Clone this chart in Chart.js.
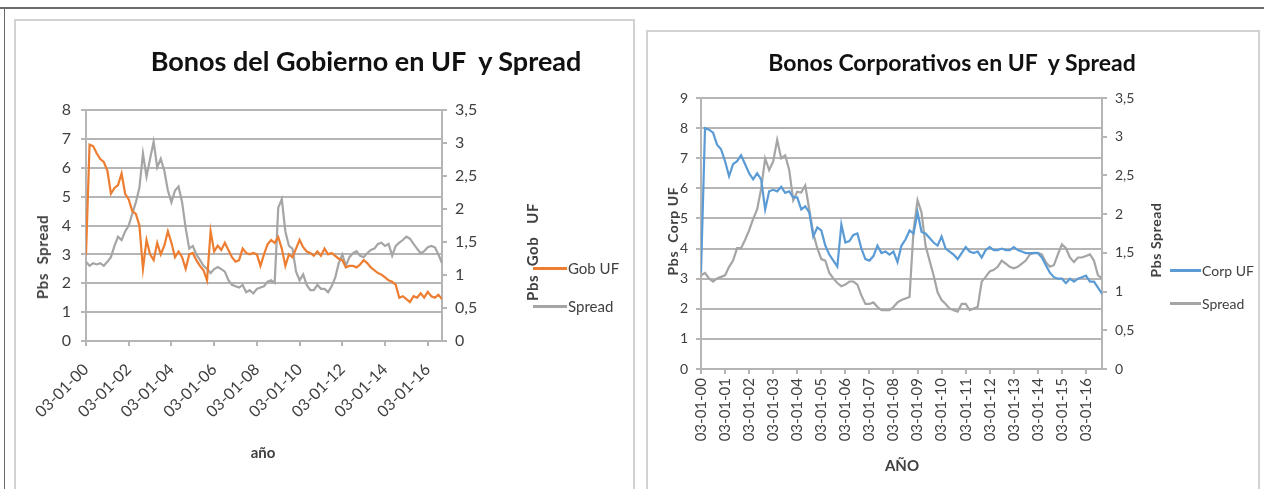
<!DOCTYPE html>
<html>
<head>
<meta charset="utf-8">
<script src="https://cdn.jsdelivr.net/npm/chart.js@4/dist/chart.umd.min.js"></script>
<style>
    body { margin: 0; width: 1264px; height: 489px; background: #fff; position: relative; overflow: hidden; font-family: Lato, sans-serif; color: #404040; }
    .line { position: absolute; background: #6b6b6b; }
    .box { position: absolute; border: 2px solid #d2d2d2; box-sizing: border-box; }
    .txt { position: absolute; white-space: pre; transform: translate(-50%, -50%); }
    .rot { transform: translate(-50%, -50%) rotate(-90deg); font-weight: bold; letter-spacing: 0.6px; }
    .title { font-weight: bold; color: #111; }
    .leg { position: absolute; white-space: pre; transform: translateY(-50%); }
    .swatch { position: absolute; height: 3px; }
    canvas { position: absolute; }
</style>
</head>
<body>
<div class="line" style="left:0;top:7px;width:1264px;height:2px;"></div>
<div class="line" style="left:4px;top:7px;width:1px;height:482px;"></div>
<div class="box" style="left:14px;top:19px;width:621px;height:480px;"></div>
<div class="box" style="left:646px;top:30px;width:614px;height:470px;"></div>

<canvas id="chartGob" width="620" height="469" style="left:14px;top:20px;"></canvas>
<canvas id="chartCorp" width="612" height="458" style="left:647px;top:31px;"></canvas>

<!-- left chart texts -->
<div class="txt title" style="left:366px;top:60px;font-size:27px;">Bonos del Gobierno en UF  y Spread</div>
<div class="txt rot" style="left:42px;top:257px;font-size:15px;">Pbs  Spread</div>
<div class="txt rot" style="left:532px;top:252px;font-size:15px;">Pbs  Gob   UF</div>
<div class="txt" style="left:263px;top:452px;font-size:15px;font-weight:bold;">año</div>
<div class="swatch" style="left:533px;top:267px;width:34px;background:#ed7d31;"></div>
<div class="leg" style="left:568px;top:268px;font-size:15px;">Gob UF</div>
<div class="swatch" style="left:533px;top:305px;width:34px;background:#a5a5a5;"></div>
<div class="leg" style="left:568px;top:306px;font-size:15px;">Spread</div>

<!-- right chart texts -->
<div class="txt title" style="left:952px;top:62px;font-size:23px;">Bonos Corporativos en UF  y Spread</div>
<div class="txt rot" style="left:672px;top:231px;font-size:14px;">Pbs  Corp UF</div>
<div class="txt rot" style="left:1155px;top:240px;font-size:14px;">Pbs Spread</div>
<div class="txt" style="left:902px;top:465px;font-size:15px;font-weight:bold;">AÑO</div>
<div class="swatch" style="left:1170px;top:269px;width:31px;background:#5b9bd5;"></div>
<div class="leg" style="left:1202px;top:270px;font-size:14px;">Corp UF</div>
<div class="swatch" style="left:1170px;top:302px;width:31px;background:#a5a5a5;"></div>
<div class="leg" style="left:1202px;top:303px;font-size:14px;">Spread</div>

<script>
// one sample every 2 months starting 03-01-00
const gobUF = [3.0, 6.8, 6.75, 6.5, 6.3, 6.2, 5.9, 5.1, 5.3, 5.4, 5.8, 5.1, 4.9, 4.5, 4.4, 4.0, 2.5, 3.5, 3.0, 2.8,
    3.4, 3.0, 3.3, 3.8, 3.4, 2.9, 3.1, 2.9, 2.5, 3.0, 3.05, 2.8, 2.6, 2.45, 2.1, 3.8, 3.1, 3.3, 3.15, 3.4,
    3.15, 2.9, 2.75, 2.8, 3.2, 3.05, 3.0, 3.05, 3.0, 2.6, 3.0, 3.35, 3.5, 3.4, 3.6, 3.2, 2.6, 3.0, 2.9, 3.2,
    3.5, 3.25, 3.1, 3.05, 2.95, 3.1, 2.95, 3.2, 3.0, 3.05, 2.95, 2.85, 2.8, 2.55, 2.6, 2.6, 2.55, 2.65, 2.8, 2.7,
    2.55, 2.45, 2.35, 2.3, 2.2, 2.1, 2.05, 1.95, 1.5, 1.55, 1.45, 1.35, 1.55, 1.5, 1.65, 1.5, 1.7, 1.55, 1.5, 1.6, 1.45];
const spreadGob = [1.20, 1.14, 1.18, 1.16, 1.18, 1.14, 1.20, 1.27, 1.44, 1.58, 1.53, 1.66, 1.75, 1.93, 2.10, 2.32, 2.84, 2.49, 2.76, 3.02,
    2.63, 2.76, 2.58, 2.28, 2.10, 2.28, 2.34, 2.10, 1.71, 1.40, 1.44, 1.31, 1.23, 1.14, 1.09, 1.03, 1.09, 1.12, 1.09, 1.05,
    0.92, 0.85, 0.83, 0.81, 0.85, 0.74, 0.77, 0.72, 0.79, 0.81, 0.83, 0.90, 0.92, 0.88, 2.02, 2.15, 1.66, 1.44, 1.40, 1.05,
    0.92, 1.01, 0.85, 0.77, 0.77, 0.85, 0.79, 0.79, 0.74, 0.83, 0.96, 1.18, 1.31, 1.14, 1.27, 1.33, 1.36, 1.29, 1.27, 1.33,
    1.38, 1.40, 1.47, 1.49, 1.44, 1.47, 1.29, 1.44, 1.49, 1.53, 1.58, 1.55, 1.47, 1.40, 1.33, 1.36, 1.42, 1.44, 1.42, 1.31, 1.18];
const corpUF = [3.2, 8.0, 7.95, 7.85, 7.45, 7.3, 6.9, 6.4, 6.8, 6.9, 7.1, 6.8, 6.5, 6.3, 6.5, 6.3, 5.3, 5.9, 5.95, 5.9,
    6.05, 5.85, 5.9, 5.7, 5.7, 5.3, 5.4, 5.2, 4.4, 4.7, 4.6, 4.1, 3.8, 3.6, 3.4, 4.8, 4.2, 4.25, 4.45, 4.5,
    4.0, 3.65, 3.6, 3.75, 4.1, 3.85, 3.9, 3.8, 3.9, 3.55, 4.1, 4.3, 4.6, 4.5, 5.2, 4.55, 4.5, 4.35, 4.2, 4.1,
    4.4, 4.0, 3.9, 3.8, 3.65, 3.85, 4.05, 3.9, 3.85, 3.9, 3.7, 3.95, 4.05, 3.95, 3.95, 4.0, 3.95, 3.95, 4.05, 3.95,
    3.9, 3.85, 3.85, 3.85, 3.85, 3.7, 3.45, 3.2, 3.05, 3.0, 3.0, 2.85, 3.0, 2.9, 3.0, 3.05, 3.1, 2.9, 2.9, 2.7, 2.5];
const spreadCorp = [1.21, 1.24, 1.17, 1.13, 1.17, 1.19, 1.21, 1.32, 1.40, 1.56, 1.56, 1.67, 1.79, 1.94, 2.06, 2.33, 2.72, 2.57, 2.68, 2.96,
    2.72, 2.76, 2.57, 2.18, 2.29, 2.28, 2.37, 2.06, 1.75, 1.56, 1.42, 1.40, 1.24, 1.17, 1.11, 1.07, 1.09, 1.13, 1.13, 1.09,
    0.95, 0.84, 0.84, 0.86, 0.80, 0.76, 0.76, 0.76, 0.80, 0.86, 0.89, 0.91, 0.93, 1.79, 2.18, 2.02, 1.59, 1.40, 1.21, 0.99,
    0.89, 0.84, 0.78, 0.76, 0.74, 0.84, 0.84, 0.76, 0.78, 0.80, 1.13, 1.19, 1.26, 1.28, 1.32, 1.40, 1.36, 1.32, 1.30, 1.32,
    1.36, 1.40, 1.48, 1.50, 1.50, 1.48, 1.38, 1.32, 1.34, 1.48, 1.61, 1.56, 1.44, 1.38, 1.44, 1.44, 1.46, 1.48, 1.40, 1.21, 1.17];

const stepMonths = 2;
const lastMonth = 200;

function pts(values) {
    return values.map((v, i) => ({ x: i * stepMonths, y: v }));
}

function dateLabel(m) {
    const yy = String(Math.round(m / 12)).padStart(2, '0');
    return '03-01-' + yy;
}

function comma(v) {
    return String(v).replace('.', ',');
}

const gridGray = '#b5b5b5';

function makeChart(id, cfg) {
    const ctx = document.getElementById(id);
    return new Chart(ctx, {
        type: 'line',
        data: {
            datasets: [
                { data: pts(cfg.main), borderColor: cfg.color, borderWidth: 2.2, pointRadius: 0, yAxisID: 'y', tension: 0 },
                { data: pts(cfg.spread), borderColor: '#a5a5a5', borderWidth: 2.2, pointRadius: 0, yAxisID: 'y2', tension: 0 }
            ]
        },
        options: {
            responsive: false,
            animation: false,
            events: [],
            layout: { padding: { top: cfg.top, left: 0, right: 0, bottom: 0 } },
            plugins: { legend: { display: false }, tooltip: { enabled: false } },
            scales: {
                x: {
                    type: 'linear',
                    min: 0,
                    max: lastMonth,
                    grid: { drawOnChartArea: false, drawTicks: true, tickLength: 5, color: gridGray, lineWidth: 2 },
                    border: { color: gridGray, width: 2 },
                    ticks: {
                        stepSize: cfg.xStep,
                        includeBounds: false,
                        autoSkip: false,
                        minRotation: cfg.rot,
                        maxRotation: cfg.rot,
                        padding: cfg.xPad,
                        color: '#404040',
                        font: { family: 'Lato', size: cfg.xFont },
                        callback: v => dateLabel(v)
                    },
                    afterFit: s => { s.height = cfg.xH; }
                },
                y: {
                    position: 'left',
                    min: 0,
                    max: cfg.yMax,
                    grid: { color: gridGray, lineWidth: 2, tickLength: 5 },
                    border: { color: gridGray, width: 2 },
                    ticks: { stepSize: 1, padding: cfg.yPad, color: '#404040', font: { family: 'Lato', size: cfg.yFont } },
                    afterFit: s => { s.width = cfg.yW; }
                },
                y2: {
                    position: 'right',
                    min: 0,
                    max: 3.5,
                    grid: { drawOnChartArea: false, color: gridGray, lineWidth: 2, tickLength: 5 },
                    border: { color: gridGray, width: 2 },
                    ticks: { stepSize: 0.5, padding: cfg.y2Pad, color: '#404040', font: { family: 'Lato', size: cfg.yFont }, callback: v => comma(v) },
                    afterFit: s => { s.width = cfg.y2W; }
                }
            }
        }
    });
}

makeChart('chartGob', {
    main: gobUF, spread: spreadGob, color: '#ed7d31',
    top: 90, yMax: 8, yW: 72, y2W: 192, xH: 148,
    xStep: 24, rot: 45, xPad: 14, xFont: 16, yFont: 16, yPad: 10, y2Pad: 8
});

makeChart('chartCorp', {
    main: corpUF, spread: spreadCorp, color: '#5b9bd5',
    top: 67, yMax: 9, yW: 54, y2W: 157, xH: 120,
    xStep: 12, rot: 90, xPad: 4, xFont: 15, yFont: 14, yPad: 8, y2Pad: 8
});
</script>
</body>
</html>
